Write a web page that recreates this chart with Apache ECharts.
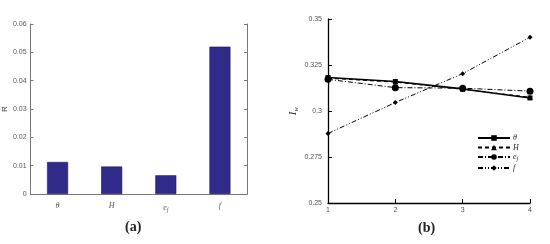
<!DOCTYPE html>
<html><head><meta charset="utf-8">
<script src="https://cdn.jsdelivr.net/npm/echarts@6/dist/echarts.min.js"></script>
<style>html,body{margin:0;padding:0;background:#fff}#c{width:550px;height:244px}</style>
</head><body><div id="c"></div>
<script>
// (a) bar chart
const barCategories = ['θ', 'H', 'e_f', 'f'];
const barValues = [0.0113, 0.0097, 0.0066, 0.052];
const barYTicks = [0, 0.01, 0.02, 0.03, 0.04, 0.05, 0.06];
// (b) line chart
const lineX = ['1', '2', '3', '4'];
const seriesTheta = [0.3182, 0.3160, 0.3120, 0.3071];
const seriesH = [0.3178, 0.3157, 0.3118, 0.3075];
const seriesEf = [0.3172, 0.3127, 0.3124, 0.3108];
const seriesF = [0.2878, 0.3046, 0.3203, 0.3401];
const lineYTicks = [0.25, 0.275, 0.3, 0.325, 0.35];
const lineNames = ['θ', 'H', 'e_f', 'f'];

const chart = echarts.init(document.getElementById('c'), null, {renderer: 'canvas'});
const tickFont = {fontFamily: 'Liberation Sans', fontSize: 7, color: '#555'};
const catRich = {
  i: {fontFamily: 'Liberation Serif', fontStyle: 'italic', fontSize: 8, color: '#555'},
  s: {fontFamily: 'Liberation Serif', fontStyle: 'italic', fontSize: 6, color: '#555', verticalAlign: 'bottom', padding: [5, 0, 0, 0]}
};
function fmtCat(v) {
  if (v.indexOf('_') >= 0) { const p = v.split('_'); return '{i|' + p[0] + '}{s|' + p[1] + '}'; }
  return '{i|' + v + '}';
}
const legRich = {
  i: {fontFamily: 'Liberation Serif', fontStyle: 'italic', fontSize: 8, color: '#222'},
  s: {fontFamily: 'Liberation Serif', fontStyle: 'italic', fontSize: 6, color: '#222', padding: [5, 0, 0, 0]}
};
const lineStyles = [
  {type: 'solid', width: 1.6, symbol: 'rect', size: 5},
  {type: [4, 3], width: 1, symbol: 'triangle', size: 5},
  {type: [5, 2, 1, 2], width: 1, symbol: 'circle', size: 7},
  {type: [5, 2, 1, 2, 1, 2], width: 1, symbol: 'diamond', size: 5}
];
const lineData = [seriesTheta, seriesH, seriesEf, seriesF];

chart.setOption({
  animation: false,
  grid: [
    {left: 30, top: 24, width: 217, height: 170},
    {left: 328, top: 19, width: 202, height: 184}
  ],
  xAxis: [
    {gridIndex: 0, type: 'category', data: barCategories, position: 'bottom',
     axisLine: {lineStyle: {color: '#777', width: 1}},
     axisTick: {inside: true, alignWithLabel: true, length: 3, lineStyle: {color: '#777'}},
     axisLabel: {margin: 8, formatter: fmtCat, rich: catRich}},
    {gridIndex: 0, type: 'category', data: barCategories, position: 'top',
     axisLine: {lineStyle: {color: '#777', width: 1}},
     axisTick: {inside: true, alignWithLabel: true, length: 3, lineStyle: {color: '#777'}},
     axisLabel: {show: false}},
    {gridIndex: 1, type: 'category', data: lineX, boundaryGap: false,
     axisLine: {lineStyle: {color: '#000', width: 1.3}},
     axisTick: {inside: true, length: 4, lineStyle: {color: '#000'}},
     axisLabel: Object.assign({margin: 4}, tickFont)}
  ],
  yAxis: [
    {gridIndex: 0, type: 'value', min: 0, max: 0.06, interval: 0.01,
     name: 'R', nameLocation: 'middle', nameGap: 19, nameRotate: 90,
     nameTextStyle: {fontFamily: 'Liberation Sans', fontSize: 8, color: '#444'},
     axisLine: {show: true, lineStyle: {color: '#777', width: 1}},
     axisTick: {show: true, inside: true, length: 3, lineStyle: {color: '#777'}},
     splitLine: {show: false},
     axisLabel: Object.assign({margin: 4, formatter: v => barYTicks.indexOf(+v.toFixed(2)) >= 0 ? String(+v.toFixed(2)) : ''}, tickFont)},
    {gridIndex: 0, type: 'value', min: 0, max: 0.06, interval: 0.01, position: 'right',
     axisLine: {show: true, lineStyle: {color: '#777', width: 1}},
     axisTick: {show: true, inside: true, length: 3, lineStyle: {color: '#777'}},
     splitLine: {show: false}, axisLabel: {show: false}},
    {gridIndex: 1, type: 'value', min: 0.25, max: 0.35, interval: 0.025,
     name: '{i|I}{s|w}', nameLocation: 'middle', nameGap: 28, nameRotate: 90,
     nameTextStyle: {rich: {i: {fontFamily: 'Liberation Serif', fontStyle: 'italic', fontSize: 11, color: '#222'},
                            s: {fontFamily: 'Liberation Serif', fontStyle: 'italic', fontSize: 7, color: '#222', padding: [6, 0, 0, 0]}}},
     axisLine: {show: true, lineStyle: {color: '#000', width: 1.3}},
     axisTick: {show: true, inside: true, length: 4, lineStyle: {color: '#000'}},
     splitLine: {show: false},
     axisLabel: Object.assign({margin: 6, formatter: v => String(+v.toFixed(3))}, tickFont)}
  ],
  legend: {
    orient: 'vertical', left: 472, top: 129, itemWidth: 32, itemHeight: 7, itemGap: 1.5,
    data: lineNames,
    formatter: fmtCat,
    textStyle: {rich: legRich, padding: [0, 0, 0, -2]}
  },
  series: [
    {type: 'bar', xAxisIndex: 0, yAxisIndex: 0, data: barValues, barWidth: 21,
     itemStyle: {color: '#302b88', borderColor: '#1a175a', borderWidth: 0.6}}
  ].concat(lineData.map((d, i) => ({
    type: 'line', name: lineNames[i], xAxisIndex: 2, yAxisIndex: 2, data: d,
    symbol: lineStyles[i].symbol, symbolSize: lineStyles[i].size,
    itemStyle: {color: '#000'},
    lineStyle: {color: '#000', width: lineStyles[i].width, type: lineStyles[i].type}
  }))),
  graphic: [
    {type: 'text', left: 125, top: 220, style: {text: '(a)', font: 'bold 14px "Liberation Serif"', fill: '#222'}},
    {type: 'text', left: 418, top: 221, style: {text: '(b)', font: 'bold 14px "Liberation Serif"', fill: '#222'}}
  ]
});
</script></body></html>
